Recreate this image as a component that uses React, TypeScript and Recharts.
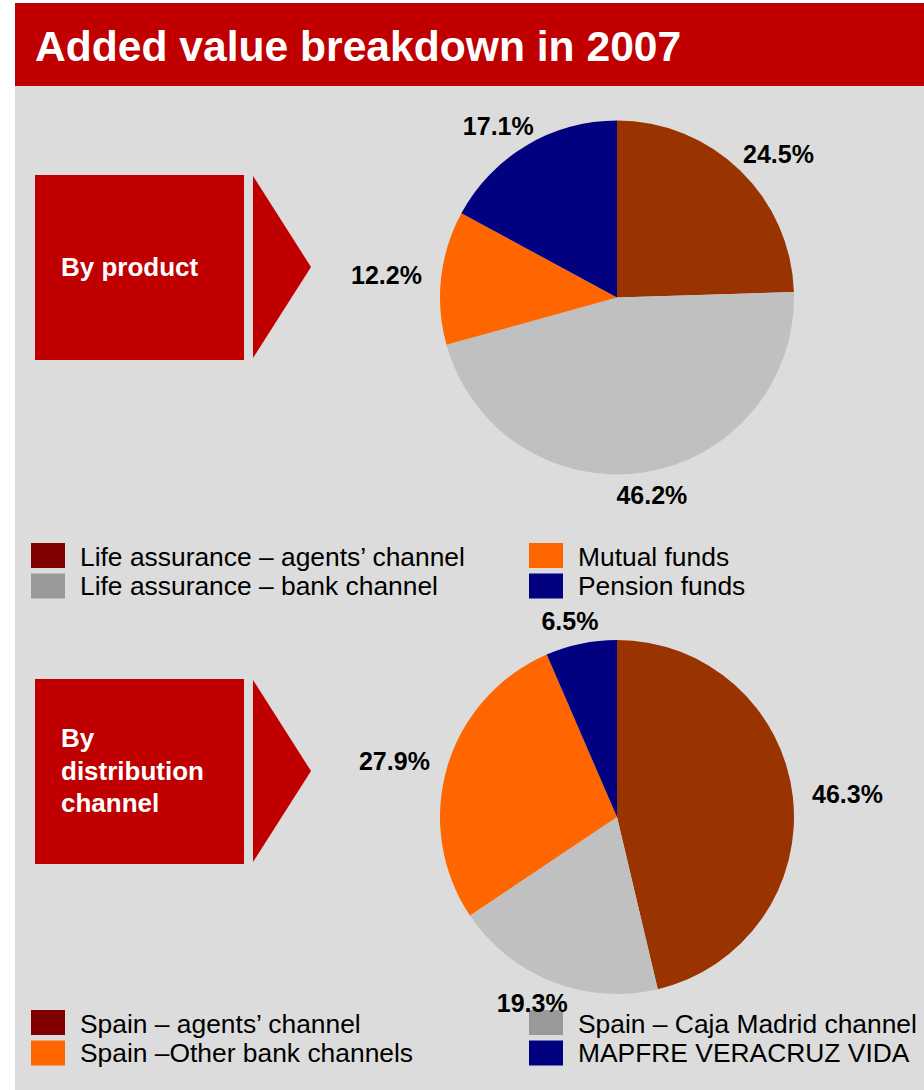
import React from 'react'
import { PieChart, Pie, Cell } from 'recharts'

const productNames = [
  'Life assurance – agents’ channel',
  'Life assurance – bank channel',
  'Mutual funds',
  'Pension funds',
]
const productValues = [24.5, 46.2, 12.2, 17.1]

const channelNames = [
  'Spain – agents’ channel',
  'Spain – Caja Madrid channel',
  'Spain –Other bank channels',
  'MAPFRE VERACRUZ VIDA',
]
const channelValues = [46.3, 19.3, 27.9, 6.5]

const title = 'Added value breakdown in 2007'

// slices are drawn lighter than their legend swatches in the original
const SLICE = ['#993300', '#C0C0C0', '#FF6600', '#000080']
const SWATCH = ['#800000', '#999999', '#FF6600', '#000080']

const RED = '#C00000'
const FONT = '"Liberation Sans", Arial, Helvetica, sans-serif'
const RAD = Math.PI / 180

const productData = productNames.map((name, i) => ({ name, value: productValues[i] }))
const channelData = channelNames.map((name, i) => ({ name, value: channelValues[i] }))

function renderLabel(props: any) {
  const { cx, cy, midAngle, outerRadius, value } = props
  const ux = Math.cos(-midAngle * RAD)
  const uy = Math.sin(-midAngle * RAD)
  const r = outerRadius + 20
  const x = cx + (r + 35) * ux
  const y = cy + (r + 3) * uy
  return (
    <text
      x={x}
      y={y}
      textAnchor="middle"
      dominantBaseline="central"
      fontFamily={FONT}
      fontWeight="bold"
      fontSize={25}
      fill="#000"
    >
      {`${value.toFixed(1)}%`}
    </text>
  )
}

function Section({ top, lines, textTop }: { top: number; lines: string[]; textTop: number }) {
  return (
    <g>
      <rect x={35} y={top} width={209} height={185} fill={RED} />
      <polygon points={`253,${top + 1} 311,${top + 92} 253,${top + 183}`} fill={RED} />
      {lines.map((l, i) => (
        <text key={i} x={61} y={textTop + i * 32.5} fill="#fff" fontFamily={FONT} fontWeight="bold" fontSize={26}>
          {l}
        </text>
      ))}
    </g>
  )
}

function LegendColumn({ x, top, items }: { x: number; top: number; items: { label: string; color: string }[] }) {
  return (
    <g>
      {items.map((it, i) => (
        <g key={i}>
          <rect x={x} y={top + i * 30.5} width={34} height={25} fill={it.color} />
          <text x={x + 49} y={top + 23 + i * 28.5} fontFamily={FONT} fontSize={26.4} fill="#000">
            {it.label}
          </text>
        </g>
      ))}
    </g>
  )
}

export default function App() {
  return (
    <div style={{ position: 'absolute', left: 0, top: 0, width: 924, height: 1090, background: '#fff' }}>
      <svg width={924} height={1090} style={{ position: 'absolute', left: 0, top: 0 }}>
        <rect x={15} y={3} width={909} height={1087} fill="#DCDCDC" />
        <rect x={15} y={3} width={909} height={83} fill={RED} />
        <text x={35} y={61} fill="#fff" fontFamily={FONT} fontWeight="bold" fontSize={42.6}>
          {title}
        </text>
        <Section top={175} lines={['By product']} textTop={276} />
        <Section top={679} lines={['By', 'distribution', 'channel']} textTop={747} />
        <LegendColumn x={31} top={543} items={[0, 1].map((i) => ({ label: productNames[i], color: SWATCH[i] }))} />
        <LegendColumn x={529} top={543} items={[2, 3].map((i) => ({ label: productNames[i], color: SWATCH[i] }))} />
        <LegendColumn x={31} top={1010} items={[0, 2].map((i) => ({ label: channelNames[i], color: SWATCH[i] }))} />
        <LegendColumn x={529} top={1010} items={[1, 3].map((i) => ({ label: channelNames[i], color: SWATCH[i] }))} />
      </svg>
      <div style={{ position: 'absolute', left: 0, top: 0 }}>
        <PieChart width={924} height={1090} margin={{ top: 0, right: 0, bottom: 0, left: 0 }}>
          <Pie
            data={productData}
            dataKey="value"
            nameKey="name"
            cx={617}
            cy={297.5}
            outerRadius={177}
            startAngle={90}
            endAngle={-270}
            stroke="none"
            label={renderLabel}
            labelLine={false}
            isAnimationActive={false}
          >
            {productData.map((d, i) => (
              <Cell key={d.name} fill={SLICE[i]} />
            ))}
          </Pie>
          <Pie
            data={channelData}
            dataKey="value"
            nameKey="name"
            cx={617}
            cy={817}
            outerRadius={177}
            startAngle={90}
            endAngle={-270}
            stroke="none"
            label={renderLabel}
            labelLine={false}
            isAnimationActive={false}
          >
            {channelData.map((d, i) => (
              <Cell key={d.name} fill={SLICE[i]} />
            ))}
          </Pie>
        </PieChart>
      </div>
    </div>
  )
}
